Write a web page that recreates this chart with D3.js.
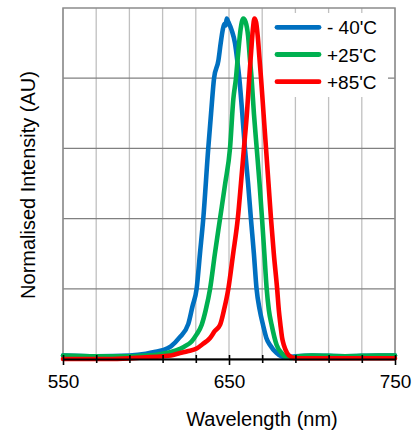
<!DOCTYPE html>
<html lang="en">
<head>
    <meta charset="UTF-8">
    <title>Normalised Intensity vs Wavelength</title>
    <script src="https://d3js.org/d3.v7.min.js"></script>
    <style>
        body { margin: 0; background: #fff; }
        svg { display: block; font-family: "Liberation Sans", Arial, sans-serif; }
        .curve { fill: none; stroke-width: 4.6px; stroke-linejoin: round; stroke-linecap: round; }
    </style>
</head>
<body>
    <svg class="chart"></svg>

    <script>
        // Legend labels and colours
        var seriesNames = ["- 40'C", "+25'C", "+85'C"];
        var seriesColors = ["#0070C0", "#00B050", "#FF0000"];

        // -40'C spectrum
        var nmCold  = [550, 570, 590, 600, 605, 610, 615, 620, 625.5, 628, 630.5, 632.5, 634.5, 637.5, 639.2, 641, 643.6, 645, 646.2, 647.2, 648, 648.6, 649.6, 651.6, 653.6, 655, 656.2, 658, 659.6, 661.5, 663.2, 665, 666.6, 668.5, 670.5, 672.5, 674.7, 678.7, 683.7, 690, 700, 720, 740, 750];
        var intCold = [0.010, 0.008, 0.010, 0.015, 0.020, 0.025, 0.036, 0.060, 0.100, 0.150, 0.200, 0.300, 0.400, 0.600, 0.700, 0.800, 0.850, 0.900, 0.937, 0.955, 0.950, 0.970, 0.960, 0.937, 0.900, 0.850, 0.800, 0.700, 0.600, 0.500, 0.400, 0.300, 0.200, 0.140, 0.097, 0.060, 0.040, 0.017, 0.005, 0.008, 0.010, 0.008, 0.010, 0.010];

        // +25'C spectrum
        var nmRoom  = [550, 570, 590, 600, 605, 610, 615, 618.5, 623, 627.5, 630.5, 633.5, 636, 638.6, 641.5, 644.6, 647.7, 650.6, 652.6, 654.2, 655.5, 657, 658.6, 660, 661.5, 662.5, 663.6, 665, 666.7, 668.4, 669.9, 671.3, 672.7, 674, 675.7, 678.7, 681.7, 684, 687.7, 692, 700, 720, 740, 750];
        var intRoom = [0.010, 0.008, 0.008, 0.010, 0.011, 0.015, 0.020, 0.025, 0.035, 0.050, 0.070, 0.097, 0.140, 0.200, 0.300, 0.400, 0.500, 0.600, 0.740, 0.800, 0.870, 0.940, 0.970, 0.960, 0.920, 0.860, 0.800, 0.700, 0.600, 0.500, 0.400, 0.300, 0.200, 0.140, 0.097, 0.040, 0.017, 0.007, 0.003, 0.008, 0.010, 0.008, 0.010, 0.010];

        // +85'C spectrum
        var nmHot  = [550, 580, 600, 610, 615, 620.5, 625, 630.5, 634, 638.6, 641.5, 644.6, 647, 649.6, 652.5, 655.3, 657.2, 659, 660.8, 662.2, 663.4, 664.4, 665.3, 666.3, 667.3, 668.3, 669.3, 670.8, 672.3, 673.8, 675.3, 677, 679, 680, 681, 682, 683, 685, 687.7, 690, 720, 750];
        var intHot = [0.000, 0.000, 0.005, 0.008, 0.010, 0.017, 0.022, 0.030, 0.042, 0.060, 0.080, 0.097, 0.140, 0.200, 0.300, 0.400, 0.500, 0.600, 0.700, 0.800, 0.880, 0.940, 0.970, 0.960, 0.920, 0.860, 0.800, 0.700, 0.600, 0.500, 0.400, 0.300, 0.200, 0.140, 0.097, 0.060, 0.040, 0.017, 0.005, 0.002, 0.002, 0.002];

        // Axis ticks
        var xTicks = d3.range(550, 751, 20);
        var xLabels = [550, 650, 750];
        var yGrid = [0.2, 0.4, 0.6, 0.8];

        var svgWidth = 418, svgHeight = 435;
        var plotLeft = 63, plotRight = 395, plotTop = 8, plotBottom = 359;

        var svg = d3.select('.chart')
                    .attr('width', svgWidth)
                    .attr('height', svgHeight);

        var x = d3.scaleLinear().domain([550, 750]).range([plotLeft, plotRight]);
        var y = d3.scaleLinear().domain([0, 1]).range([plotBottom, plotTop]);

        // vertical gridlines (light)
        svg.append('g').selectAll('line')
           .data(xTicks).enter().append('line')
           .attr('x1', d => x(d)).attr('x2', d => x(d))
           .attr('y1', plotTop).attr('y2', plotBottom)
           .attr('stroke', '#c0c0c0').attr('stroke-width', 1.3);

        // horizontal gridlines (darker)
        svg.append('g').selectAll('line')
           .data(yGrid).enter().append('line')
           .attr('x1', plotLeft).attr('x2', plotRight)
           .attr('y1', d => y(d)).attr('y2', d => y(d))
           .attr('stroke', '#808080').attr('stroke-width', 1.2);

        // plot frame
        svg.append('rect')
           .attr('x', plotLeft).attr('y', plotTop)
           .attr('width', plotRight - plotLeft).attr('height', plotBottom - plotTop)
           .attr('fill', 'none').attr('stroke', '#8c8c8c').attr('stroke-width', 1.5);

        // legend background hides the gridlines behind it
        svg.append('rect')
           .attr('x', 263).attr('y', 13)
           .attr('width', 125).attr('height', 84)
           .attr('fill', '#fff');

        // curves, cold first so the hot one sits on top
        var line = d3.line()
                     .x(d => x(d[0]))
                     .y(d => y(d[1]))
                     .curve(d3.curveMonotoneX);

        var series = [
            d3.zip(nmCold, intCold),
            d3.zip(nmRoom, intRoom),
            d3.zip(nmHot, intHot)
        ];

        svg.append('g').selectAll('path')
           .data(series).enter().append('path')
           .attr('class', 'curve')
           .attr('stroke', (d, i) => seriesColors[i])
           .attr('d', line);

        // x axis: black line with crossing ticks
        var xAxis = d3.axisBottom(x)
                      .tickValues(xTicks)
                      .tickSizeInner(4)
                      .tickSizeOuter(0)
                      .tickFormat(d => xLabels.includes(d) ? d : '');

        var gx = svg.append('g')
                    .attr('transform', 'translate(0,' + plotBottom + ')')
                    .call(xAxis);
        gx.select('.domain').attr('stroke', '#000').attr('stroke-width', 1.8);
        gx.selectAll('.tick line')
          .attr('y1', -4)
          .attr('y2', d => xLabels.includes(d) ? 6 : 4)
          .attr('stroke', '#000').attr('stroke-width', 1.6);
        gx.selectAll('.tick text')
          .attr('y', 29).attr('dy', 0)
          .attr('fill', '#000')
          .style('font-size', '19px')
          .style('font-family', '"Liberation Sans", Arial, sans-serif');

        // axis titles
        svg.append('text')
           .attr('x', 262).attr('y', 426)
           .attr('text-anchor', 'middle')
           .style('font-size', '20px')
           .text('Wavelength (nm)');

        svg.append('text')
           .attr('transform', 'translate(34.5,185) rotate(-90)')
           .attr('text-anchor', 'middle')
           .style('font-size', '20px')
           .text('Normalised Intensity (AU)');

        // legend
        var legend = svg.append('g').selectAll('g')
                        .data(seriesNames).enter().append('g')
                        .attr('transform', (d, i) => 'translate(0,' + (27.3 + i * 27.2) + ')');
        legend.append('line')
              .attr('x1', 277).attr('x2', 319)
              .attr('stroke', (d, i) => seriesColors[i])
              .attr('stroke-width', 4.8)
              .attr('stroke-linecap', 'round');
        legend.append('text')
              .attr('x', 327).attr('y', 7)
              .style('font-size', '19px')
              .text(d => d);
    </script>
</body>
</html>
